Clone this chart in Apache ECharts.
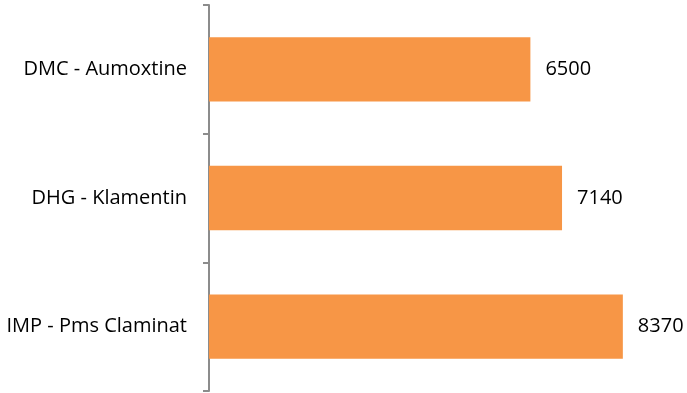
<!DOCTYPE html>
<html>
<head>
<meta charset="utf-8">
<script src="https://cdn.jsdelivr.net/npm/echarts@6/dist/echarts.min.js"></script>
<style>
  html, body { margin: 0; padding: 0; background: #fff; }
  #main { width: 687px; height: 393px; }
</style>
</head>
<body>
<div id="main"></div>
<script>
var categories = ['IMP - Pms Claminat', 'DHG - Klamentin', 'DMC - Aumoxtine'];
var values = [8370, 7140, 6500];

var chart = echarts.init(document.getElementById('main'));
chart.setOption({
    animation: false,
    grid: { left: 209, right: 33, top: 5, bottom: 2 },
    xAxis: {
        type: 'value',
        min: 0,
        max: 9000,
        show: false
    },
    yAxis: {
        type: 'category',
        data: categories,
        axisLine: { show: true, lineStyle: { color: '#8c8c8c', width: 2 } },
        axisTick: { show: true, length: 6, lineStyle: { color: '#8c8c8c', width: 2 } },
        axisLabel: {
            margin: 22,
            color: '#000',
            fontFamily: 'Open Sans',
            fontSize: 20
        }
    },
    series: [{
        type: 'bar',
        data: values,
        barWidth: '50%',
        itemStyle: { color: '#F79646' },
        label: {
            show: true,
            position: 'right',
            distance: 15,
            color: '#000',
            fontFamily: 'Open Sans',
            fontSize: 20
        }
    }]
});
</script>
</body>
</html>
